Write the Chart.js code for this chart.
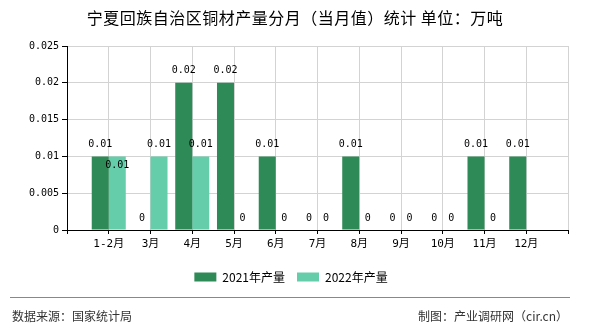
<!DOCTYPE html>
<html>
<head>
<meta charset="utf-8">
<script src="https://cdn.jsdelivr.net/npm/chart.js@4.4.1/dist/chart.umd.min.js"></script>
<style>
  html, body { margin: 0; padding: 0; background: #fff; }
  #wrap { width: 590px; height: 330px; position: relative; }
</style>
</head>
<body>
<div id="wrap"><canvas id="chart" width="590" height="330"></canvas></div>
<script>
const months = ['1-2月', '3月', '4月', '5月', '6月', '7月', '8月', '9月', '10月', '11月', '12月']
const output2021 = [0.01, 0, 0.02, 0.02, 0.01, 0, 0.01, 0, 0, 0.01, 0.01]
const output2022 = [0.01, 0.01, 0.01, 0, 0, 0, 0, 0, 0, 0, null]
const seriesNames = ['2021年产量', '2022年产量']
const seriesColors = ['#2E8B57', '#66CDAA']
const yTicks = [0, 0.005, 0.01, 0.015, 0.02, 0.025]

const titleText = '宁夏回族自治区铜材产量分月（当月值）统计 单位：万吨'
const sourceText = '数据来源：国家统计局'
const madeByText = '制图：产业调研网（cir.cn）'

const numFont = '10px "DejaVu Sans Mono", "Noto Sans CJK SC", monospace'

// empty slot on each side so the months sit on the grid lines
const labels = [''].concat(months, [''])
const pad = arr => [null].concat(arr, [null])

function fmt(v) {
  return String(Number(v.toFixed(3)))
}

const barLabels = {
  id: 'barLabels',
  afterDatasetsDraw(chart) {
    const ctx = chart.ctx
    ctx.save()
    ctx.font = numFont
    ctx.fillStyle = '#000'
    ctx.textAlign = 'center'
    ctx.textBaseline = 'middle'
    const placed = []
    chart.data.datasets.forEach((ds, di) => {
      const meta = chart.getDatasetMeta(di)
      meta.data.forEach((bar, i) => {
        const v = ds.data[i]
        if (v === null || v === undefined) return
        const txt = fmt(v)
        const w = ctx.measureText(txt).width
        let y = bar.y - 12
        const x = bar.x
        let hit = placed.some(r => Math.abs(r.x - x) < (r.w + w) / 2 && Math.abs(r.y - y) < 10)
        if (hit) y += 21
        placed.push({x: x, y: y, w: w})
        ctx.fillText(txt, x, y)
      })
    })
    ctx.restore()
  }
}

const decor = {
  id: 'decor',
  afterDraw(chart) {
    const ctx = chart.ctx
    ctx.save()
    ctx.fillStyle = '#000'
    ctx.textAlign = 'center'
    ctx.textBaseline = 'middle'
    ctx.font = '16px "Noto Sans CJK SC", sans-serif'
    ctx.letterSpacing = '0.5px'
    ctx.fillText(titleText, 295, 18)
    ctx.letterSpacing = '0px'

    ctx.strokeStyle = '#888'
    ctx.lineWidth = 1
    ctx.beginPath()
    ctx.moveTo(10, 297.5)
    ctx.lineTo(570, 297.5)
    ctx.stroke()

    ctx.fillStyle = '#333'
    ctx.font = '12px "Noto Sans CJK SC", sans-serif'
    ctx.textAlign = 'left'
    ctx.fillText(sourceText, 12, 316)
    ctx.textAlign = 'right'
    ctx.fillText(madeByText, 568, 316)
    ctx.restore()
  }
}

new Chart(document.getElementById('chart'), {
  type: 'bar',
  data: {
    labels: labels,
    datasets: [
      {
        label: seriesNames[0],
        data: pad(output2021),
        backgroundColor: seriesColors[0],
        borderWidth: 0,
        categoryPercentage: 0.815,
        barPercentage: 1
      },
      {
        label: seriesNames[1],
        data: pad(output2022),
        backgroundColor: seriesColors[1],
        borderWidth: 0,
        categoryPercentage: 0.815,
        barPercentage: 1
      }
    ]
  },
  options: {
    responsive: false,
    animation: false,
    devicePixelRatio: 1,
    layout: { padding: { top: 46, left: 14, right: 22, bottom: 37 } },
    scales: {
      x: {
        offset: false,
        afterFit(s) { s.height = 29 },
        grid: { offset: false, color: '#d3d3d3', tickColor: '#000', tickLength: 4 },
        border: { color: '#000' },
        ticks: {
          autoSkip: false,
          maxRotation: 0,
          padding: 4,
          color: '#000',
          font: { family: '"DejaVu Sans Mono", "Noto Sans CJK SC", monospace', size: 11 }
        }
      },
      y: {
        min: 0,
        max: 0.025,
        afterFit(s) { s.width = 53 },
        afterBuildTicks(s) { s.ticks = yTicks.map(v => ({value: v})) },
        grid: { color: '#d3d3d3', tickColor: '#000', tickLength: 5 },
        border: { color: '#000' },
        ticks: {
          padding: 3,
          color: '#000',
          font: { family: '"DejaVu Sans Mono", monospace', size: 10 },
          callback: v => fmt(v)
        }
      }
    },
    plugins: {
      title: { display: false },
      tooltip: { enabled: false },
      legend: {
        position: 'bottom',
        labels: {
          boxWidth: 22,
          boxHeight: 9,
          padding: 12,
          color: '#000',
          font: { family: '"Noto Sans CJK SC", sans-serif', size: 12 }
        }
      }
    }
  },
  plugins: [barLabels, decor]
})
</script>
</body>
</html>
